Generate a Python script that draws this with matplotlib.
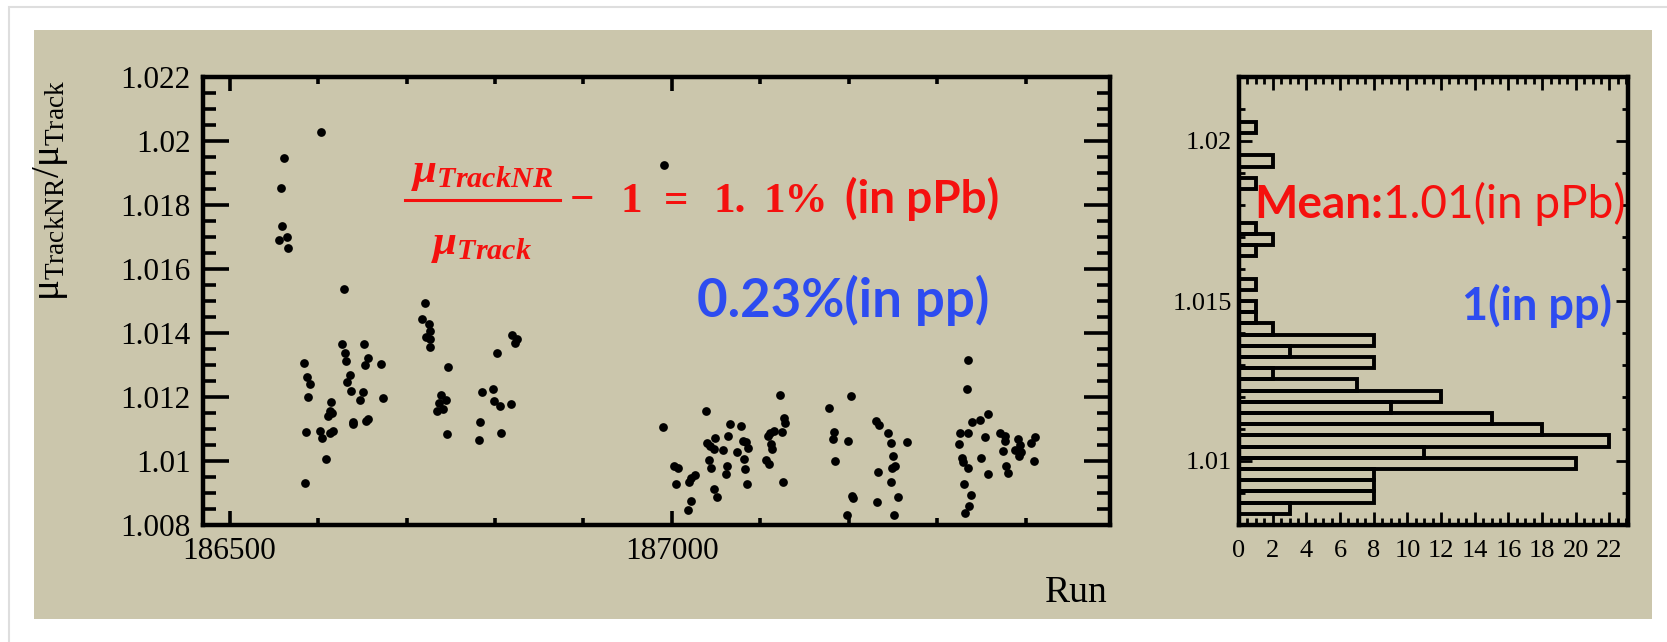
import numpy as np
import matplotlib
matplotlib.use("Agg")
import matplotlib.pyplot as plt
from matplotlib.patches import Rectangle
from matplotlib.ticker import FixedLocator, MultipleLocator

plt.rcParams['mathtext.fontset'] = 'custom'
plt.rcParams['mathtext.rm'] = 'Liberation Serif'
plt.rcParams['mathtext.it'] = 'Liberation Serif:italic:bold'
plt.rcParams['mathtext.bf'] = 'Liberation Serif:bold'

# run number vs ratio
runs = [
    186603, 186561, 186558, 186559, 186565, 186556, 186566, 186629, 186627, 186652,
    186630, 186632, 186656, 186653, 186671, 186584, 186588, 186591, 186636, 186633,
    186637, 186651, 186647, 186673, 186589, 186615, 186613, 186611, 186616, 186639,
    186640, 186654, 186657, 186586, 186602, 186605, 186613, 186617, 186609, 186585,
    186721, 186718, 186725, 186727, 186722, 186727, 186726, 186747, 186739, 186745,
    186737, 186741, 186735, 186746, 186819, 186825, 186823, 186802, 186785, 186798,
    186799, 186806, 186818, 186783, 186807, 186782,
    186991,
    186990, 187038, 187002, 187007, 187005, 187019, 187021, 187026, 187021, 187018,
    187065, 187078, 187063, 187049, 187040, 187043, 187047, 187058, 187074, 187080,
    187084, 187086, 187081, 187083, 187085, 187042, 187044, 187062, 187061, 187048,
    187051, 187122, 187127, 187128, 187124, 187115, 187111, 187108, 187112, 187113,
    187106, 187110, 187126,
    187178, 187202, 187183, 187182, 187199, 187184, 187203, 187204, 187198, 187230,
    187234, 187244, 187247, 187266, 187250, 187252, 187249, 187233, 187248, 187255,
    187232, 187251, 187334, 187333, 187339, 187348, 187357, 187326, 187334, 187354,
    187324, 187328, 187329, 187335, 187349, 187357, 187330, 187338, 187336, 187331,
    187371, 187376, 187376, 187374, 187377, 187380, 187391, 187388, 187392, 187393,
    187394, 187406, 187410, 187409,
]
ratios = [
    1.02029, 1.01948, 1.01852, 1.01734, 1.01699, 1.01691, 1.01667, 1.01538, 1.01365, 1.01365,
    1.01337, 1.01313, 1.01323, 1.01300, 1.01304, 1.01305, 1.01262, 1.01242, 1.01269, 1.01246,
    1.01220, 1.01215, 1.01192, 1.01198, 1.01200, 1.01183, 1.01157, 1.01140, 1.01149, 1.01123,
    1.01115, 1.01126, 1.01130, 1.01092, 1.01095, 1.01071, 1.01087, 1.01094, 1.01007, 1.00930,
    1.01495, 1.01445, 1.01428, 1.01407, 1.01388, 1.01380, 1.01357, 1.01293, 1.01206, 1.01191,
    1.01180, 1.01162, 1.01155, 1.01084, 1.01393, 1.01380, 1.01368, 1.01338, 1.01215, 1.01224,
    1.01187, 1.01173, 1.01177, 1.01121, 1.01087, 1.01067,
    1.01925,
    1.01106, 1.01157, 1.00984, 1.00977, 1.00928, 1.00935, 1.00946, 1.00956, 1.00876, 1.00846,
    1.01117, 1.01109, 1.01078, 1.01072, 1.01057, 1.01047, 1.01037, 1.01034, 1.01027, 1.01062,
    1.01060, 1.01040, 1.01005, 1.00975, 1.00928, 1.01003, 1.00979, 1.00984, 1.00960, 1.00912,
    1.00887, 1.01205, 1.01133, 1.01120, 1.01090, 1.01094, 1.01087, 1.01078, 1.01053, 1.01037,
    1.01003, 1.00991, 1.00934,
    1.01165, 1.01203, 1.01092, 1.01069, 1.01063, 1.01000, 1.00892, 1.00885, 1.00830, 1.01126,
    1.01113, 1.01088, 1.01055, 1.01058, 1.01016, 1.00984, 1.00977, 1.00967, 1.00933, 1.00888,
    1.00871, 1.00830, 1.01315, 1.01226, 1.01122, 1.01128, 1.01146, 1.01087, 1.01087, 1.01076,
    1.01053, 1.01008, 1.00996, 1.00977, 1.01008, 1.00958, 1.00928, 1.00894, 1.00859, 1.00837,
    1.01087, 1.01078, 1.01063, 1.01031, 1.00984, 1.00962, 1.01068, 1.01034, 1.01016, 1.01050,
    1.01028, 1.01057, 1.01076, 1.01000,
]

# projection histogram, 40 bins between 1.008 and 1.022 (bottom to top)
hist_counts = [0, 3, 8, 8, 8, 20, 11, 22, 18, 15,
               9, 12, 7, 2, 8, 3, 8, 2, 1, 1,
               0, 1, 0, 0, 1, 2, 1, 0, 0, 0,
               1, 0, 2, 0, 0, 1, 0, 0, 0, 0]
hist_range = (1.008, 1.022)

x_ticks = [186500, 187000]
x_tick_labels = ['186500', '187000']
y_ticks = [1.008, 1.010, 1.012, 1.014, 1.016, 1.018, 1.020, 1.022]
y_tick_labels = ['1.008', '1.01', '1.012', '1.014', '1.016', '1.018', '1.02', '1.022']
h_y_ticks = [1.010, 1.015, 1.020]
h_y_tick_labels = ['1.01', '1.015', '1.02']
h_x_ticks = list(range(0, 23, 2))

bg = '#cbc6ac'
red = '#f5100e'
blue = '#2d4cf0'
serif = 'Liberation Serif'

W, H = 1667, 642
fig = plt.figure(figsize=(W / 100, H / 100), dpi=100)
fig.patches.append(Rectangle((9 / W, -0.1), 1.2, 1.1 - 7 / H, transform=fig.transFigure,
                             fc='white', ec='#dedede', lw=1.5, zorder=-2))
fig.patches.append(Rectangle((34 / W, 1 - 619 / H), (1652 - 34) / W, 589 / H,
                             transform=fig.transFigure, fc=bg, ec='none', zorder=-1))

ax = fig.add_axes([203 / W, 1 - 525 / H, 907 / W, 448 / H])
axh = fig.add_axes([1239 / W, 1 - 525 / H, 389 / W, 448 / H])

# --- scatter ---
ax.set_facecolor('none')
ax.plot(runs, ratios, 'o', ms=6.3, color='black', mec='none')
ax.set_xlim(186470, 187495)
ax.set_ylim(1.008, 1.022)
ax.xaxis.set_major_locator(FixedLocator(x_ticks))
ax.xaxis.set_minor_locator(MultipleLocator(100))
ax.set_xticklabels(x_tick_labels)
ax.yaxis.set_major_locator(FixedLocator(y_ticks))
ax.yaxis.set_minor_locator(MultipleLocator(0.0005))
ax.set_yticklabels(y_tick_labels)
for s in ax.spines.values():
    s.set_linewidth(3.2)
ax.tick_params(which='both', direction='in', top=True, right=True, width=2.6,
               labelsize=22.5, labelfontfamily=serif)
ax.tick_params(axis='y', which='major', length=19, pad=9)
ax.tick_params(axis='y', which='minor', length=9.5)
ax.tick_params(axis='x', which='major', length=10, pad=8.5)
ax.tick_params(axis='x', which='minor', length=5)

fig.text(51 / W, 1 - 80 / H, r'$\mathrm{\mu_{TrackNR}/\mu_{Track}}$',
         rotation=90, ha='center', va='top', fontsize=28)
ax.text(0.9973, -0.172, 'Run', transform=ax.transAxes, ha='right', va='baseline',
        fontsize=27, family=serif)

# red formula
ax.text(0.3079, 0.742, r'$\mu_{TrackNR}$', transform=ax.transAxes, ha='center',
        va='bottom', fontsize=31, color=red)
ax.plot([0.2232, 0.3931], [0.7254, 0.7254], transform=ax.transAxes, color=red,
        lw=2.2, clip_on=False)
ax.text(0.3068, 0.674, r'$\mu_{Track}$', transform=ax.transAxes, ha='center',
        va='top', fontsize=31, color=red)
formula_parts = ['\u2212', '1', '=', '1.', '1%']
formula_x = [0.4040, 0.4600, 0.5080, 0.5625, 0.6175]
for part, fx in zip(formula_parts, formula_x):
    ax.text(fx, 0.6987, part, transform=ax.transAxes, va='baseline',
            fontsize=31, family=serif, weight='bold', color=red)
ax.text(0.7082, 0.6964, '(in pPb)', transform=ax.transAxes, va='baseline',
        fontsize=33, family='Lato', weight='bold', color=red)
ax.text(0.5450, 0.4643, '0.23%(in pp)', transform=ax.transAxes, va='baseline',
        fontsize=38, family='Lato', weight='bold', color=blue)

# --- histogram ---
axh.set_facecolor('none')
edges = np.linspace(hist_range[0], hist_range[1], len(hist_counts) + 1)
centers = 0.5 * (edges[:-1] + edges[1:])
bw = edges[1] - edges[0]
counts = np.array(hist_counts)
nz = counts > 0
axh.barh(centers[nz], counts[nz], height=bw, fill=False, edgecolor='black', linewidth=2.8)
axh.set_xlim(0, 23.1)
axh.set_ylim(1.008, 1.022)
axh.xaxis.set_major_locator(FixedLocator(h_x_ticks))
axh.xaxis.set_minor_locator(MultipleLocator(0.5))
axh.yaxis.set_major_locator(FixedLocator(h_y_ticks))
axh.yaxis.set_minor_locator(MultipleLocator(0.001))
axh.set_yticklabels(h_y_tick_labels)
for s in axh.spines.values():
    s.set_linewidth(3.2)
axh.tick_params(which='both', direction='in', top=True, right=True, width=2,
                labelsize=19, labelfontfamily=serif)
axh.tick_params(axis='x', which='major', length=9.5, pad=11)
axh.tick_params(axis='x', which='minor', length=5)
axh.tick_params(axis='y', which='major', length=9, pad=5)
axh.tick_params(axis='y', which='minor', length=4)

t = axh.text(0.0386, 0.6853, 'Mean:', transform=axh.transAxes, va='baseline',
             fontsize=33, family='Lato', weight='bold', color=red)
axh.annotate('1.01(in pPb)', xy=(1, 0), xycoords=t, va='bottom', ha='left',
             fontsize=33, family='Lato', color=red)
axh.text(0.9589, 0.4576, '1(in pp)', transform=axh.transAxes, ha='right', va='baseline',
         fontsize=32.5, family='Lato', weight='bold', color=blue)

fig.savefig('out.png', dpi=100)
